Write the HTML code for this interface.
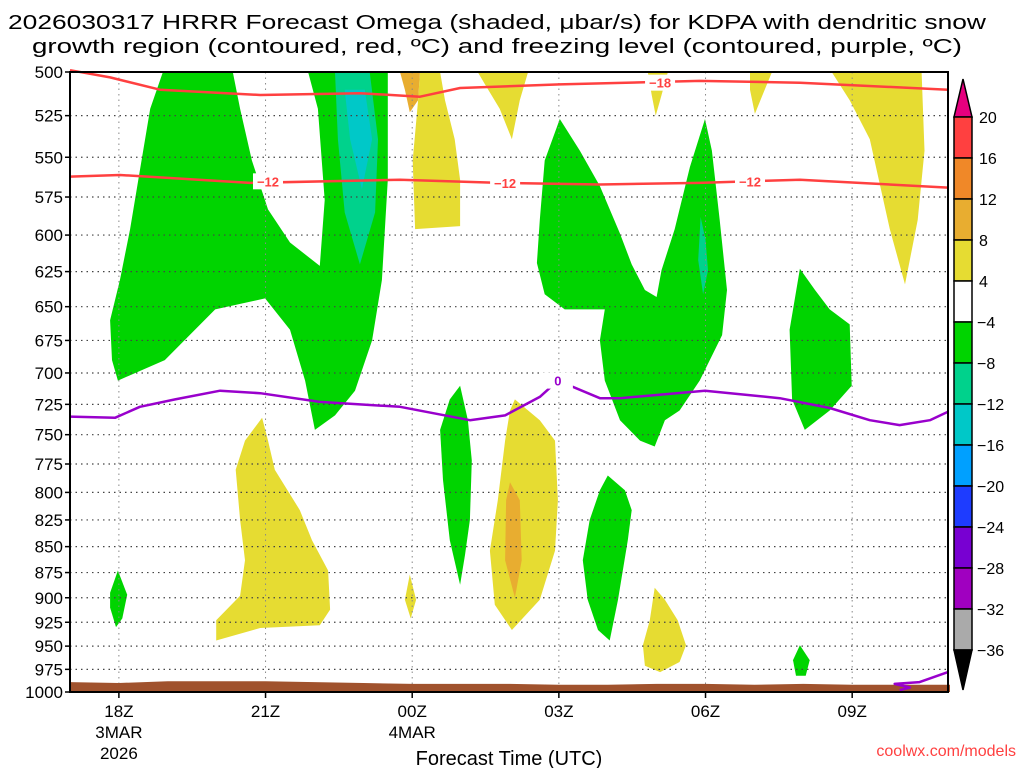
<!DOCTYPE html>
<html><head><meta charset="utf-8"><style>
html,body{margin:0;padding:0;background:#fff;width:1024px;height:768px;overflow:hidden}
svg{display:block;font-family:"Liberation Sans",sans-serif}
</style></head><body>
<svg id="chart" width="1024" height="768" viewBox="0 0 1024 768" xmlns="http://www.w3.org/2000/svg">
<text x="497" y="29" font-size="20" text-anchor="middle" textLength="978" lengthAdjust="spacingAndGlyphs">2026030317 HRRR Forecast Omega (shaded, μbar/s) for KDPA with dendritic snow</text>
<text x="497" y="53" font-size="20" text-anchor="middle" textLength="930" lengthAdjust="spacingAndGlyphs">growth region (contoured, red, ºC) and freezing level (contoured, purple, ºC)</text>
<g id="shade"></g>
<g id="grid"></g>
<g id="lines"></g>
<g id="axes"></g>
<g id="cbar"></g>
<text x="509" y="765" font-size="20" text-anchor="middle">Forecast Time (UTC)</text>
<text x="1016" y="756" font-size="16" fill="#ff4040" text-anchor="end">coolwx.com/models</text>
</svg>
<script>
// ---------- data ----------
const pressureTicks = [500,525,550,575,600,625,650,675,700,725,750,775,800,825,850,875,900,925,950,975,1000];
const timeTicks = [1,4,7,10,13,16];
const timeLabels = [["18Z","3MAR","2026"],["21Z"],["00Z","4MAR"],["03Z"],["06Z"],["09Z"]];
const cbarLevels = [20,16,12,8,4,-4,-8,-12,-16,-20,-24,-28,-32,-36];
const cbarColors = ["#ff4040","#f08828","#e8ad30","#e6dc32","#ffffff","#00d400","#00d28c","#00c8c8","#00a0ff","#1e3cff","#7800d2","#a000c0","#aaaaaa"];
// omega regions: [hour since 17Z, hPa]
const regionGreenMain = [[1.9,500],[1.64,521],[1.43,558],[1.23,596],[1.02,631],[0.82,660],[0.86,690],[0.98,706],[1.94,690],[2.97,652],[3.99,644],[4.5,667],[4.81,706],[5.01,746],[5.42,734],[5.83,714],[6.18,675],[6.38,631],[6.5,564],[6.5,500],[4.87,500],[5.07,521],[5.21,577],[5.11,621],[4.5,605],[4.05,583],[3.72,552],[3.48,521],[3.33,500]];
const regionTeal1 = [[5.42,500],[6.13,500],[6.3,539],[6.24,585],[5.93,620],[5.62,585],[5.48,539]];
const regionCyan1 = [[5.62,510],[6.03,510],[6.18,539],[5.97,570],[5.73,539]];
const regionYellow1 = [[7.16,500],[7.57,500],[7.67,516],[7.87,539],[7.98,564],[7.98,594],[7.06,596],[7.01,552],[7.12,516]];
const regionGold1 = [[6.75,500],[7.16,500],[7.12,516],[6.95,523],[6.85,510]];
const regionYellow2 = [[8.34,500],[9.37,500],[9.2,516],[9.04,539],[8.79,521],[8.49,507]];
const regionYellow3 = [[11.82,500],[12.23,500],[12.07,516],[11.98,525],[11.9,513]];
const regionYellow4 = [[13.91,500],[14.36,500],[14.21,510],[14.01,524],[13.91,510]];
const regionYellow5 = [[15.58,500],[17.42,500],[17.48,546],[17.34,590],[17.08,634],[16.77,596],[16.36,539],[15.95,516]];
const regionGreenMid = [[10.02,527],[10.43,546],[10.84,568],[11.25,599],[11.49,620],[11.76,638],[12.0,643],[12.1,624],[12.37,596],[12.68,556],[12.99,527],[13.13,546],[13.29,590],[13.44,638],[13.34,671],[12.88,706],[12.47,730],[12.17,738],[11.96,760],[11.66,755],[11.25,738],[10.94,706],[10.84,675],[10.94,652],[10.63,652],[10.12,652],[9.71,641],[9.55,619],[9.61,590],[9.71,552]];
const regionTeal2 = [[12.9,588],[13.0,603],[13.05,624],[12.95,641],[12.85,617]];
const regionGreenRight = [[14.93,623],[15.24,638],[15.54,652],[15.95,663],[15.99,710],[15.54,730],[15.03,746],[14.77,721],[14.72,667]];
const regionGreenThin = [[7.98,710],[8.14,738],[8.22,772],[8.18,825],[8.08,858],[7.98,887],[7.77,844],[7.63,789],[7.57,746],[7.77,721]];
const regionYellow6 = [[9.1,721],[9.61,738],[9.92,755],[9.98,807],[9.92,854],[9.61,902],[9.04,933],[8.69,907],[8.59,854],[8.75,807],[8.9,755],[9.0,730]];
const regionOrange1 = [[9.0,791],[9.2,807],[9.24,863],[9.1,900],[8.9,863],[8.92,807]];
const regionYellow7 = [[3.93,736],[4.05,755],[4.19,780],[4.7,816],[4.95,844],[5.28,873],[5.32,912],[5.11,928],[3.89,931],[2.99,944],[2.99,923],[3.48,898],[3.58,863],[3.48,825],[3.39,780],[3.58,755]];
const regionGreenLow = [[11.0,785],[11.35,798],[11.49,816],[11.41,844],[11.21,902],[11.04,944],[10.8,933],[10.59,902],[10.49,863],[10.63,825],[10.84,798]];
const regionYellow8 = [[11.96,890],[12.17,902],[12.43,923],[12.6,949],[12.47,967],[12.07,978],[11.76,971],[11.72,949],[11.86,923]];
const regionGreenSmall1 = [[0.98,873],[1.17,897],[1.07,921],[0.94,930],[0.82,910],[0.82,895]];
const regionYellowSmall = [[6.95,877],[7.08,902],[6.97,921],[6.85,902]];
const regionGreenSmall2 = [[14.93,949],[15.13,965],[15.05,982],[14.85,982],[14.79,965]];
// contour lines
const iso18Hours = [0,0.82,1.84,3.89,5.93,7.16,7.98,10.02,12.88,14.93,17.96];
const iso18Press = [499,503,510,513,512,514,509,507,505,506,510];
const iso12Hours = [0,1.02,3.68,6.75,8.79,10.84,12.88,14.93,17.96];
const iso12Press = [562,561,566,564,566,567,566,564,569];
const frzHours = [0,0.92,1.43,2.15,3.07,3.89,5.11,6.75,8.18,8.9,9.61,9.98,10.84,11.25,12.99,14.52,15.54,16.36,16.97,17.59,17.96];
const frzPress = [735,736,727,721,714,716,723,727,738,734,719,706,720,720,714,720,728,738,742,738,731];
const frzSfcHours = [17.96,17.38,16.87,17.18,16.97];
const frzSfcPress = [978,989,991,995,998];
const groundHours = [0,1,2,3,4,5,6,7,8,9,10,11,12,13,14,15,16,17,18];
const groundPress = [989,990,988,988,988,989,990,991,991,991,992,992,991,991,992,991,992,992,992];

// ---------- axes ----------
const X0=70,X1=948,Y0=72,Y1=692,HSPAN=17.96;
const xs=h=>X0+(h/HSPAN)*(X1-X0);
const ys=p=>Y0+(Y1-Y0)*Math.log2(p/500);
const NS="http://www.w3.org/2000/svg";
function mk(tag,attrs,parent){const e=document.createElementNS(NS,tag);for(const k in attrs)e.setAttribute(k,attrs[k]);parent.appendChild(e);return e;}
const shade=document.getElementById('shade'),grid=document.getElementById('grid'),lines=document.getElementById('lines'),axes=document.getElementById('axes'),cbar=document.getElementById('cbar');
const ptsStr=arr=>arr.map(d=>xs(d[0]).toFixed(1)+","+ys(d[1]).toFixed(1)).join(" ");
function region(arr,color,name){
  const e=mk('polygon',{points:ptsStr(arr),fill:color},shade);
  
  
}
const G="#00d400",Y="#e6dc32",TL="#00d28c",CY="#00c8c8",GD="#e8ad30";
region(regionGreenMain,G,'omega-region-green-main');
region(regionTeal1,TL,'omega-region-teal-1');
region(regionCyan1,CY,'omega-region-cyan-1');
region(regionYellow1,Y,'omega-region-yellow-1');
region(regionGold1,GD,'omega-region-gold-1');
region(regionYellow2,Y,'omega-region-yellow-2');
region(regionYellow3,Y,'omega-region-yellow-3');
region(regionYellow4,Y,'omega-region-yellow-4');
region(regionYellow5,Y,'omega-region-yellow-5');
region(regionGreenMid,G,'omega-region-green-mid');
region(regionTeal2,TL,'omega-region-teal-2');
region(regionGreenRight,G,'omega-region-green-right');
region(regionGreenThin,G,'omega-region-green-thin');
region(regionYellow6,Y,'omega-region-yellow-6');
region(regionOrange1,GD,'omega-region-orange-1');
region(regionYellow7,Y,'omega-region-yellow-7');
region(regionGreenLow,G,'omega-region-green-low');
region(regionYellow8,Y,'omega-region-yellow-8');
region(regionGreenSmall1,G,'omega-region-green-small-1');
region(regionYellowSmall,Y,'omega-region-yellow-small');
region(regionGreenSmall2,G,'omega-region-green-small-2');

// grid
pressureTicks.forEach(p=>{
  const y=ys(p);
  const l=mk('line',{x1:X0,x2:X1,y1:y,y2:y,stroke:"#444","stroke-width":1.2,"stroke-dasharray":"1.5,4"},grid);
  
  
  const t=mk('text',{x:63,y:y+6,"font-size":17,"text-anchor":"end"},axes);t.textContent=p;
  
  
  mk('line',{x1:X0-5,x2:X0,y1:y,y2:y,stroke:"#000","stroke-width":1.5},axes);
});
timeTicks.forEach((h,i)=>{
  const x=xs(h);
  const l=mk('line',{x1:x,x2:x,y1:Y0,y2:Y1,stroke:"#888","stroke-width":1,"stroke-dasharray":"1.5,4"},grid);
  
  
  mk('line',{x1:x,x2:x,y1:Y1,y2:Y1+6,stroke:"#000","stroke-width":1.5},axes);
  timeLabels[i].forEach((s,j)=>{
    const t=mk('text',{x:x,y:717+j*21,"font-size":17,"text-anchor":"middle"},axes);t.textContent=s;
    
    
  });
});

// ground
const gp=[[0,1000]].concat(groundHours.map((h,i)=>[h,groundPress[i]])).concat([[18,1000]]);
const gnd=mk('polygon',{points:ptsStr(gp),fill:"#a0522d"},lines);



function cline(hs,ps,color,name){
  const e=mk('polyline',{points:ptsStr(hs.map((h,i)=>[h,ps[i]])),fill:"none",stroke:color,"stroke-width":2.5,"stroke-linejoin":"round"},lines);
  
  
}
cline(iso18Hours,iso18Press,"#ff4040",'isotherm-minus18');
cline(iso12Hours,iso12Press,"#ff4040",'isotherm-minus12');
cline(frzHours,frzPress,"#9900cc",'freezing-level');
cline(frzSfcHours,frzSfcPress,"#9900cc",'freezing-level-surface');
function clabel(h,p,txt,color,name){
  const x=xs(h),y=ys(p);
  mk('rect',{x:x-15,y:y-8,width:30,height:16,fill:"#fff"},lines);
  const t=mk('text',{x:x,y:y+5,"font-size":13,"font-weight":"bold",fill:color,"text-anchor":"middle"},lines);t.textContent=txt;
  
  
}
clabel(4.05,565,"−12","#ff4040",'isotherm-label-1');
clabel(8.9,566,"−12","#ff4040",'isotherm-label-2');
clabel(13.91,565,"−12","#ff4040",'isotherm-label-3');
clabel(12.07,506,"−18","#ff4040",'isotherm-label-4');
clabel(9.98,706,"0","#9900cc",'freezing-level-label');

// frame
const fr=mk('rect',{x:X0,y:Y0,width:X1-X0,height:Y1-Y0,fill:"none",stroke:"#000","stroke-width":2},axes);



// colorbar
const CB0=117,CBstep=41,CX=954,CW=18;
const tri1=mk('polygon',{points:`${CX},${CB0} ${CX+CW},${CB0} ${CX+CW/2},${CB0-38}`,fill:"#e6007e",stroke:"#000","stroke-width":1.5},cbar);


cbarColors.forEach((c,i)=>{
  const r=mk('rect',{x:CX,y:CB0+i*CBstep,width:CW,height:CBstep,fill:c,stroke:"#000","stroke-width":1.5},cbar);
  
  
});
const yb=CB0+cbarColors.length*CBstep;
const tri2=mk('polygon',{points:`${CX},${yb} ${CX+CW},${yb} ${CX+CW/2},${yb+40}`,fill:"#000",stroke:"#000","stroke-width":1.5},cbar);


cbarLevels.forEach((v,i)=>{
  const t=mk('text',{x:v<0?977:979,y:CB0+i*CBstep+6,"font-size":16},cbar);
  t.textContent=v<0?"−"+(-v):String(v);
  
  
});
</script>
</body></html>
